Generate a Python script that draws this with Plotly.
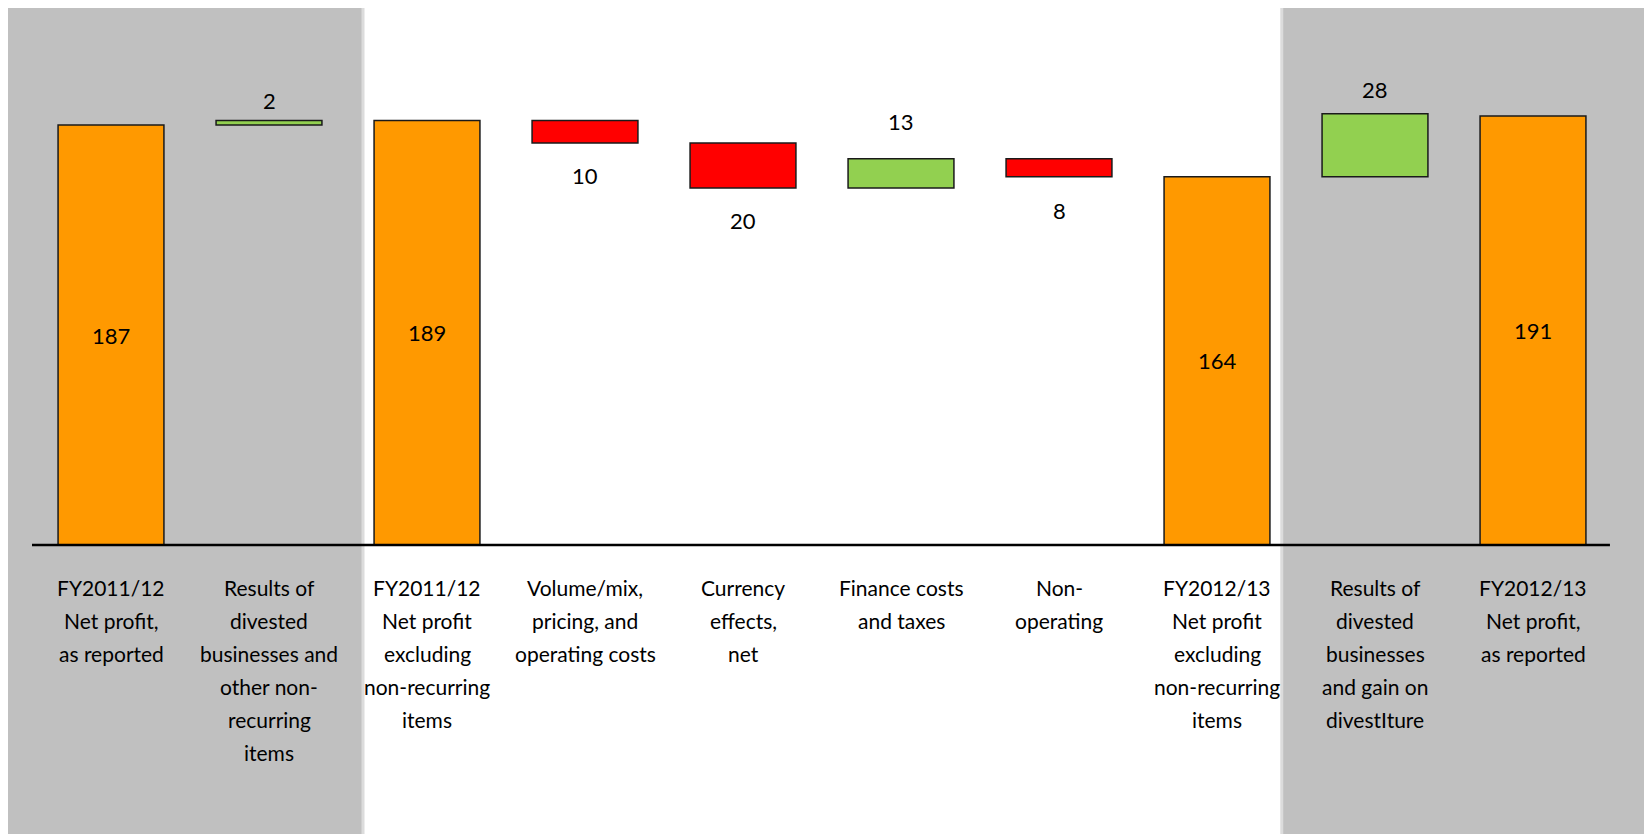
import plotly.graph_objects as go

categories = [
    "FY2011/12<br>Net profit,<br>as reported",
    "Results of<br>divested<br>businesses and<br>other non-<br>recurring<br>items",
    "FY2011/12<br>Net profit<br>excluding<br>non-recurring<br>items",
    "Volume/mix,<br>pricing, and<br>operating costs",
    "Currency<br>effects,<br>net",
    "Finance costs<br>and taxes",
    "Non-<br>operating",
    "FY2012/13<br>Net profit<br>excluding<br>non-recurring<br>items",
    "Results of<br>divested<br>businesses<br>and gain on<br>divestIture",
    "FY2012/13<br>Net profit,<br>as reported",
]
values = [187, 2, 189, -10, -20, 13, -8, 164, 28, 191]
measures = ["total", "delta", "total", "delta", "delta", "delta", "delta", "total", "delta", "total"]

ORANGE = "#FF9900"
GREEN = "#92D050"
RED = "#FF0000"
FONT = "Lato"

bases, heights, colors = [], [], []
running = 0
for v, m in zip(values, measures):
    if m == "total":
        bases.append(0)
        heights.append(v)
        colors.append(ORANGE)
        running = v
    else:
        if v >= 0:
            bases.append(running)
            colors.append(GREEN)
        else:
            bases.append(running + v)
            colors.append(RED)
        heights.append(abs(v))
        running += v

xs = list(range(len(categories)))
XMIN, XMAX = -0.5, len(categories) - 0.5


def to_paper(xv):
    return (xv - XMIN) / (XMAX - XMIN)


fig = go.Figure()
fig.add_trace(go.Bar(
    x=xs, y=heights, base=bases, width=0.67,
    marker=dict(color=colors, line=dict(color="#1a1a1a", width=1.5)),
    hoverinfo="skip", showlegend=False,
))

# shaded regions (in category units, converted to paper so they are not clipped)
shade_regions = [(-0.75, 1.595), (7.41, 10.2)]
for x0, x1 in shade_regions:
    fig.add_shape(type="rect", xref="paper", yref="paper", x0=to_paper(x0), x1=to_paper(x1),
                  y0=-0.02, y1=1.01,
                  fillcolor="#C0C0C0", line=dict(color="#DCDCDC", width=3), layer="below")

# baseline
fig.add_shape(type="line", xref="paper", yref="y", x0=0, x1=0.9987, y0=0, y1=0,
              line=dict(color="black", width=2.5))

# value labels
label_shift = {1: 20, 3: -33, 4: -33, 5: 37, 6: -34, 8: 24}
for i, (v, m) in enumerate(zip(values, measures)):
    if m == "total":
        fig.add_annotation(x=i, y=bases[i] + heights[i] / 2, text=str(abs(v)), showarrow=False,
                           font=dict(family=FONT, size=22, color="black"), yanchor="middle")
    elif v >= 0:
        fig.add_annotation(x=i, y=bases[i] + heights[i], text=str(abs(v)), showarrow=False,
                           yshift=label_shift[i], font=dict(family=FONT, size=22, color="black"),
                           yanchor="middle")
    else:
        fig.add_annotation(x=i, y=bases[i], text=str(abs(v)), showarrow=False,
                           yshift=label_shift[i], font=dict(family=FONT, size=22, color="black"),
                           yanchor="middle")

# category labels, one annotation per line to match spacing
for i, cat in enumerate(categories):
    for j, line in enumerate(cat.split("<br>")):
        fig.add_annotation(x=i, y=0, text=line, showarrow=False, yshift=-42 - 33 * j,
                           yanchor="middle", font=dict(family=FONT, size=21, color="black"))

px_per_unit = 420 / 187
BASE_PX = 537
FIG_H = 834
fig.update_layout(
    width=1652, height=FIG_H,
    margin=dict(l=24, r=48, t=0, b=0),
    paper_bgcolor="white", plot_bgcolor="rgba(0,0,0,0)",
    xaxis=dict(range=[XMIN, XMAX], showticklabels=False, showgrid=False, zeroline=False,
               showline=False, fixedrange=True),
    yaxis=dict(range=[-(FIG_H - BASE_PX) / px_per_unit, BASE_PX / px_per_unit], showticklabels=False,
               showgrid=False, zeroline=False, showline=False, fixedrange=True),
)

fig.write_html("out.html")
